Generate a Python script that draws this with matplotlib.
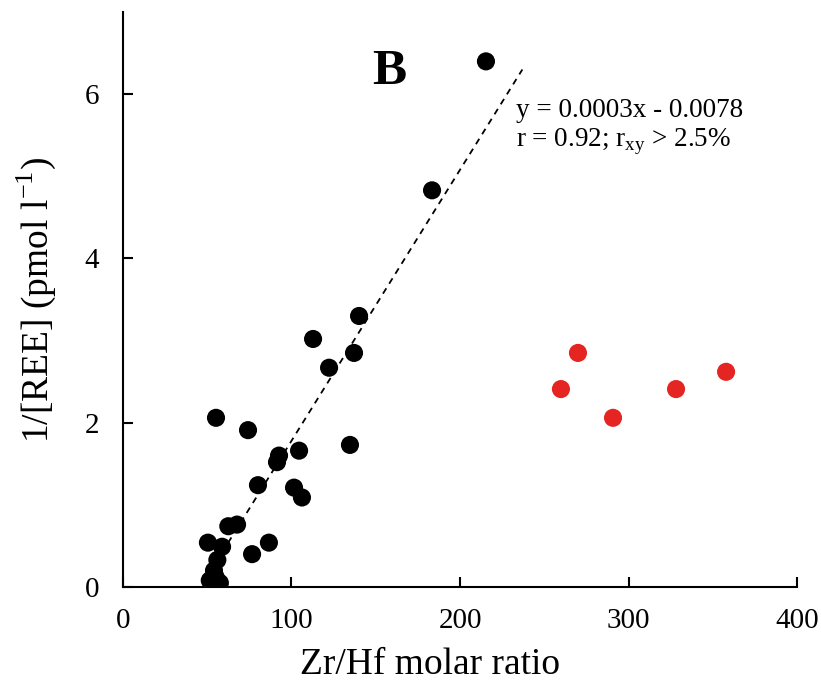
import matplotlib
matplotlib.use("Agg")
import matplotlib.pyplot as plt
import numpy as np

plt.rcParams['font.family'] = ['Liberation Serif', 'DejaVu Serif']
plt.rcParams['mathtext.fontset'] = 'custom'
plt.rcParams['mathtext.rm'] = 'Liberation Serif'

# Black group (Zr/Hf molar ratio, 1/[REE])
black_x = [215.4, 183.4, 140.1, 112.8, 137.1, 122.3, 55.2, 74.2, 134.7, 104.5,
           92.6, 91.4, 80.1, 101.5, 106.2, 62.5, 67.7, 50.4, 58.8, 56.0,
           54.0, 51.5, 57.5, 55.0, 86.6, 76.6]
black_y = [6.40, 4.83, 3.30, 3.02, 2.85, 2.67, 2.06, 1.91, 1.73, 1.66,
           1.60, 1.52, 1.24, 1.21, 1.09, 0.74, 0.76, 0.54, 0.49, 0.33,
           0.20, 0.08, 0.05, 0.12, 0.54, 0.40]

# Red group
red_x = [259.9, 270.0, 290.8, 328.2, 357.9]
red_y = [2.41, 2.85, 2.06, 2.41, 2.62]

# Fitted trend line (in plot units)
fit_slope = 0.0330
fit_intercept = -1.52
fit_range = [55, 237]

xticks = [0, 100, 200, 300, 400]
yticks = [0, 2, 4, 6]

fig = plt.figure(figsize=(8.21, 6.91), dpi=100)
ax = fig.add_axes([0.1498, 0.1505, 0.821, 0.832])

fx = np.array(fit_range)
ax.plot(fx, fit_slope * fx + fit_intercept, linestyle=(0, (3.5, 3)), color='black', lw=1.3, zorder=1)

ax.scatter(black_x, black_y, s=170, color='black', edgecolors='none', zorder=3)
ax.scatter(red_x, red_y, s=170, color='#e52521', edgecolors='none', zorder=3)

ax.set_xlim(0, 400)
ax.set_ylim(0, 7)
ax.set_xticks(xticks)
ax.set_yticks(yticks)
ax.spines['top'].set_visible(False)
ax.spines['right'].set_visible(False)
for s in ['left', 'bottom']:
    ax.spines[s].set_linewidth(1.5)
ax.tick_params(direction='in', length=7, width=1.5, labelsize=21)
ax.tick_params(axis='x', pad=15)
ax.tick_params(axis='y', pad=17)

ax.set_xlabel('Zr/Hf molar ratio', fontsize=27)
ax.xaxis.set_label_coords(0.455, -0.136)
ax.xaxis.label.set_verticalalignment('center')
ax.set_ylabel('1/[REE] (pmol l$^{\\mathrm{-1}}$)', fontsize=27, labelpad=19)

ax.text(158, 6.12, 'B', fontsize=37, fontweight='bold', ha='center', va='baseline')
ax.text(233, 5.80, 'y = 0.0003x - 0.0078', fontsize=19.5, ha='left', va='center')
ax.text(233, 5.42, 'r = 0.92; r$_{\\mathrm{xy}}$ > 2.5%', fontsize=19.5, ha='left', va='center')

fig.savefig('out.png', dpi=100)
